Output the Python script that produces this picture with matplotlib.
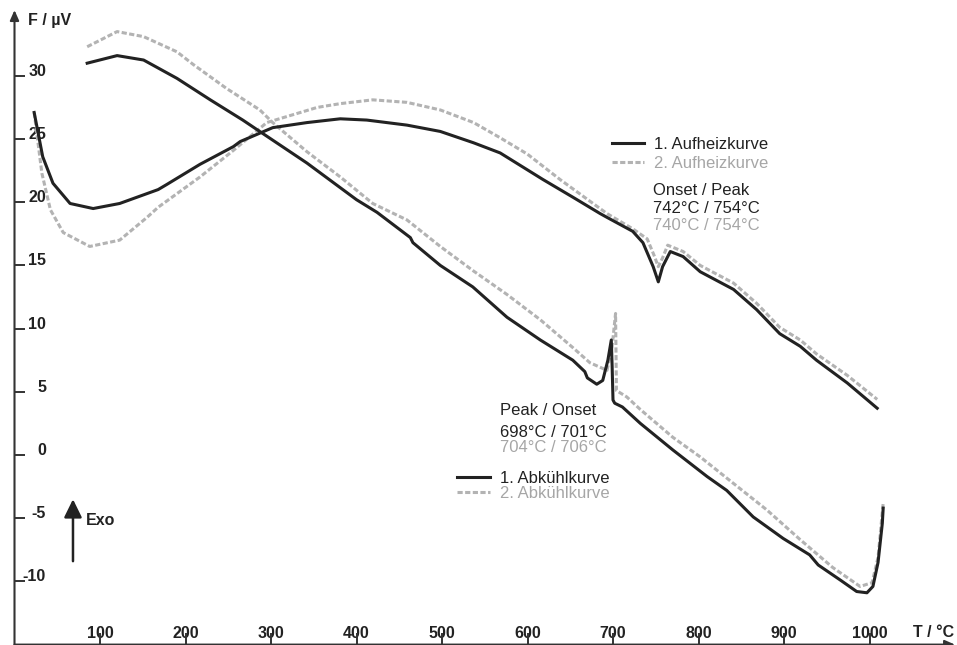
import matplotlib
matplotlib.use("Agg")
import matplotlib.pyplot as plt

plt.rcParams['font.family'] = ['Liberation Sans', 'DejaVu Sans']

# --- data (T in °C, F in µV) ---
heat1_T = [23, 33, 45, 65, 92, 123, 168, 178, 217, 256, 264, 302, 342, 381, 412, 459, 498,
           537, 568, 618, 653, 685, 693, 723, 735, 747, 753, 758, 767, 782, 802, 841, 868,
           895, 919, 938, 974, 1009]
heat1_F = [27.1, 23.6, 21.5, 19.9, 19.5, 19.9, 21.0, 21.4, 23.0, 24.4, 24.8, 25.9, 26.3, 26.6,
           26.5, 26.1, 25.6, 24.7, 23.9, 21.8, 20.4, 19.1, 18.8, 17.7, 16.8, 14.9, 13.7, 14.9,
           16.1, 15.7, 14.5, 13.1, 11.5, 9.6, 8.6, 7.5, 5.7, 3.7]

heat2_T = [23, 32, 42, 57, 88, 123, 155, 168, 217, 256, 295, 354, 381, 419, 459, 498, 537,
           568, 600, 638, 693, 723, 740, 748, 753, 758, 764, 782, 802, 841, 868, 895, 919,
           938, 974, 1009]
heat2_F = [27.1, 22.3, 19.4, 17.6, 16.5, 17.0, 18.8, 19.6, 22.0, 24.1, 26.3, 27.5, 27.8, 28.1,
           27.9, 27.3, 26.3, 25.1, 23.8, 21.8, 19.1, 17.9, 17.1, 15.8, 14.9, 15.6, 16.6, 16.1,
           15.0, 13.6, 12.0, 10.1, 9.1, 8.0, 6.3, 4.4]

cool1_T = [85, 120, 151, 190, 229, 267, 289, 342, 400, 424, 463, 466, 498, 536, 576, 615,
           653, 667, 670, 681, 688, 694, 698, 699, 700, 702, 711, 732, 770, 810, 833, 864,
           899, 930, 940, 966, 985, 997, 1004, 1010, 1015, 1016]
cool1_F = [31.0, 31.6, 31.25, 29.8, 28.1, 26.5, 25.5, 23.1, 20.2, 19.2, 17.2, 16.8, 15.0, 13.3,
           10.9, 9.1, 7.5, 6.6, 6.1, 5.6, 5.9, 7.5, 9.1, 7.0, 4.35, 4.1, 3.8, 2.5, 0.4, -1.7,
           -2.8, -4.9, -6.6, -7.9, -8.7, -9.9, -10.8, -10.9, -10.4, -8.5, -5.4, -4.2]

cool2_T = [85, 120, 151, 190, 209, 248, 287, 302, 342, 381, 419, 459, 498, 536, 576, 615,
           653, 673, 693, 699, 703, 704, 716, 732, 770, 802, 840, 880, 919, 957, 989, 1003,
           1010, 1016]
cool2_F = [32.3, 33.5, 33.1, 31.9, 30.9, 29.0, 27.3, 26.3, 24.0, 22.0, 19.9, 18.6, 16.5, 14.6,
           12.7, 10.7, 8.5, 7.3, 6.7, 8.6, 11.2, 5.1, 4.6, 3.6, 1.4, -0.15, -2.2, -4.35, -6.7,
           -8.9, -10.4, -10.1, -8.1, -3.8]

x_ticks = [100, 200, 300, 400, 500, 600, 700, 800, 900, 1000]
y_ticks = [-10, -5, 0, 5, 10, 15, 20, 25, 30]

heat_labels = ['1. Aufheizkurve', '2. Aufheizkurve']
cool_labels = ['1. Abkühlkurve', '2. Abkühlkurve']
heat_note = ['Onset / Peak', '742°C / 754°C', '740°C / 754°C']
cool_note = ['Peak / Onset', '698°C / 701°C', '704°C / 706°C']

dark = '#222222'
grey = '#b3b3b3'
grey_txt = '#a6a6a6'
axcol = '#333333'

fig = plt.figure(figsize=(9.57, 6.45), dpi=100)
ax = fig.add_axes([14.5 / 957, 0.4 / 645, 940.5 / 957, 634.5 / 645])
ax.set_xlim(0, 1100)
ax.set_ylim(-15, 35.2)
for s in ax.spines.values():
    s.set_visible(False)

dash = (0, (1.7, 0.8))
h2, = ax.plot(heat2_T, heat2_F, color=grey, lw=2.2, ls=dash)
c2, = ax.plot(cool2_T, cool2_F, color=grey, lw=2.2, ls=dash)
h1, = ax.plot(heat1_T, heat1_F, color=dark, lw=2.2)
c1, = ax.plot(cool1_T, cool1_F, color=dark, lw=2.2)

# axes with arrow heads
for end in [(0, 1), (1, 0)]:
    ax.annotate('', xy=end, xytext=(0, 0), xycoords='axes fraction',
                arrowprops=dict(arrowstyle='-|>,head_length=0.5,head_width=0.22',
                                color=axcol, lw=1.5, mutation_scale=12,
                                shrinkA=0, shrinkB=0), annotation_clip=False)

ax.set_xticks(x_ticks)
ax.set_yticks(y_ticks)
ax.tick_params(axis='y', direction='in', length=7.2, width=1.4, color=axcol,
               labelleft=False)
ax.tick_params(axis='x', direction='in', length=8.6, width=1.4, color=axcol,
               labelbottom=False)

tick_font = dict(fontsize=11.5, fontweight='bold', color=dark)
for v in y_ticks:
    ax.text(31.5 / 940.5, v, str(v), transform=ax.get_yaxis_transform(),
            ha='right', va='baseline', zorder=1, **tick_font)
for v in x_ticks:
    ax.text(v, 7 / 634.5, str(v), transform=ax.get_xaxis_transform(),
            ha='center', va='baseline', zorder=1, **tick_font)

ax.text(15.8, 34.0, 'F / µV', ha='left', va='baseline', **tick_font)
ax.text(1051, -14.4, 'T / °C', ha='left', va='baseline', **tick_font)

# Exo arrow
ax.annotate('', xy=(68.4, -3.5), xytext=(68.4, -8.4),
            arrowprops=dict(arrowstyle='-|>,head_length=0.55,head_width=0.27',
                            color=dark, lw=1.8, mutation_scale=20,
                            shrinkA=0, shrinkB=0))
ax.text(83.6, -5.5, 'Exo', ha='left', va='baseline', **tick_font)

# legends
leg1 = ax.legend([h1, h2], heat_labels, loc='upper left', bbox_to_anchor=(699, 25.15),
                 bbox_transform=ax.transData, frameon=False, fontsize=12,
                 borderpad=0, borderaxespad=0, handlelength=1.9, handletextpad=0.6,
                 labelspacing=0.25, labelcolor=[dark, grey_txt])
ax.add_artist(leg1)
ax.legend([c1, c2], cool_labels, loc='upper left', bbox_to_anchor=(517.5, -1.25),
          bbox_transform=ax.transData, frameon=False, fontsize=12,
          borderpad=0, borderaxespad=0, handlelength=2.0, handletextpad=0.6,
          labelspacing=0.02, labelcolor=[dark, grey_txt])

# onset / peak notes
note_cols = [dark, dark, grey_txt]
for txt, y, c in zip(heat_note, [20.57, 19.15, 17.8], note_cols):
    ax.text(746.8, y, txt, ha='left', va='baseline', fontsize=12, color=c)
for txt, y, c in zip(cool_note, [3.16, 1.42, 0.24], note_cols):
    ax.text(567.8, y, txt, ha='left', va='baseline', fontsize=12, color=c)

fig.savefig('out.png', dpi=100)
